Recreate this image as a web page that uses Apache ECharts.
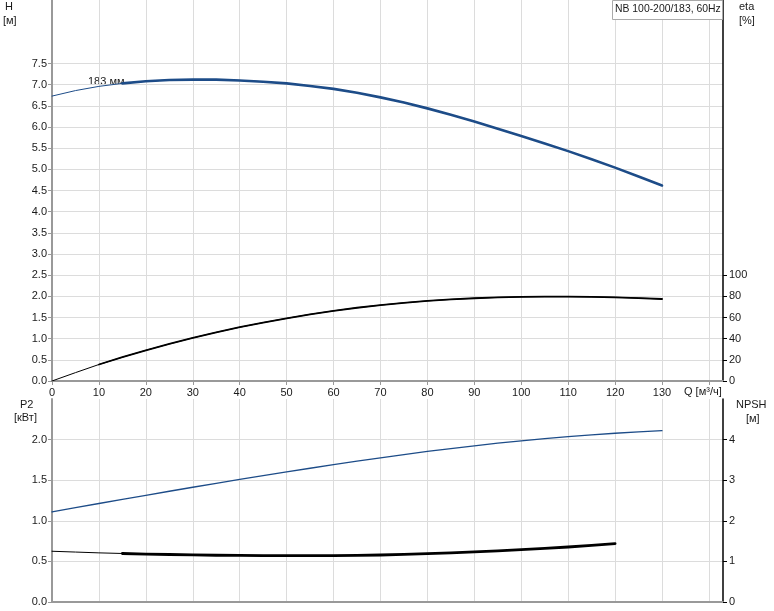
<!DOCTYPE html>
<html><head><meta charset="utf-8">
<script src="https://cdn.jsdelivr.net/npm/echarts@6/dist/echarts.min.js"></script>
<style>html,body{margin:0;padding:0;background:#fff}#c{width:774px;height:611px}</style>
</head><body><div id="c"></div>
<script>
// Flow rate Q [м³/ч]
const Q = [0,5,10,15,20,25,30,35,40,45,50,55,60,65,70,75,80,85,90,95,100,105,110,115,120,125,130];
// Head H [м]
const H = [6.73,6.86,6.96,7.03,7.08,7.11,7.12,7.12,7.10,7.07,7.03,6.97,6.90,6.81,6.70,6.58,6.44,6.29,6.13,5.96,5.79,5.61,5.43,5.24,5.04,4.83,4.62];
// Efficiency eta [%]
const ETA = [0,7.9,15.6,22.5,29,35,40.7,46,50.8,55.2,59.2,63,66.3,69.2,71.7,73.9,75.7,77.1,78.2,79.0,79.5,79.7,79.7,79.5,79.1,78.4,77.5];
// Power P2 [кВт]
const P2 = [1.11,1.162,1.213,1.264,1.314,1.364,1.413,1.461,1.509,1.556,1.602,1.647,1.691,1.734,1.776,1.816,1.854,1.890,1.924,1.956,1.985,2.012,2.037,2.059,2.078,2.095,2.11];
// NPSH [м] (Q 0..120)
const NPSH = [1.25,1.23,1.21,1.195,1.18,1.17,1.16,1.152,1.146,1.142,1.14,1.14,1.142,1.148,1.158,1.172,1.19,1.21,1.235,1.26,1.29,1.32,1.355,1.395,1.44];
// Tick labels
const H_TICKS = [0,0.5,1,1.5,2,2.5,3,3.5,4,4.5,5,5.5,6,6.5,7,7.5];
const ETA_TICKS = [0,20,40,60,80,100];
const P2_TICKS = [0,0.5,1,1.5,2];
const NPSH_TICKS = [0,1,2,3,4];
const X_TICKS = [0,10,20,30,40,50,60,70,80,90,100,110,120,130];
const TITLE = 'NB 100-200/183, 60Hz';
const CURVE_LABEL = '183 мм';

const pairs = (xs, ys, from) => ys.map((y,i)=>[xs[i],y]).filter(p=>p[0]>=(from||0));
const FONT = 'Liberation Sans, Arial, sans-serif';
const TXT = '#1a1a1a';
const GRID = '#dcdcdc';
const BLUE = '#1d4c88';

const chart = echarts.init(document.getElementById('c'), null, {renderer:'canvas'});
const xBase = (gi, showLabels) => ({
  type:'value', gridIndex:gi, min:0, max:143, interval:10,
  axisLine:{show:true, onZero:false, lineStyle:{color:'#999', width:2}},
  axisTick:{show:showLabels, length:4, lineStyle:{color:'#999'}, customValues: X_TICKS.concat([140])},
  axisLabel:{show:showLabels, customValues:X_TICKS, color:TXT, fontSize:11, fontFamily:FONT, margin:6},
  splitLine:{show:true, lineStyle:{color:GRID, width:1}}
});
const yLeft = (gi, max, interval, ticks) => ({
  type:'value', gridIndex:gi, min:0, max:max, interval:interval, position:'left',
  axisLine:{show:true, onZero:false, lineStyle:{color:'#999', width:2}},
  axisTick:{show:true, length:4, lineStyle:{color:'#999'}, customValues:ticks},
  axisLabel:{customValues:ticks, formatter:v=>v.toFixed(1), color:TXT, fontSize:11, fontFamily:FONT, margin:5},
  splitLine:{show:true, lineStyle:{color:GRID, width:1}}
});
const yRight = (gi, max, interval, ticks) => ({
  type:'value', gridIndex:gi, min:0, max:max, interval:interval, position:'right',
  axisLine:{show:true, onZero:false, lineStyle:{color:'#000', width:1.5}},
  axisTick:{show:true, length:4, lineStyle:{color:'#000'}, customValues:ticks},
  axisLabel:{customValues:ticks, color:TXT, fontSize:11, fontFamily:FONT, margin:6},
  splitLine:{show:false}
});
const line = (xi, yi, data, color, width) => ({
  type:'line', xAxisIndex:xi, yAxisIndex:yi, data:data, showSymbol:false, symbol:'none',
  smooth:false, lineStyle:{color:color, width:width, join:'round', cap:'round'}, silent:true
});

chart.setOption({
  animation:false,
  textStyle:{fontFamily:FONT},
  grid:[
    {left:52, top:0, width:671, height:381},
    {left:52, top:399, width:671, height:203}
  ],
  xAxis:[xBase(0,true), xBase(1,false)],
  yAxis:[
    yLeft(0, 9, 0.5, H_TICKS),
    yRight(0, 360, 20, ETA_TICKS),
    yLeft(1, 2.5, 0.5, P2_TICKS),
    yRight(1, 5, 1, NPSH_TICKS)
  ],
  series:[
    line(0,0,pairs(Q,H),BLUE,1),
    line(0,0,pairs(Q,H,15),BLUE,2.6),
    line(0,1,pairs(Q,ETA),'#000',1),
    line(0,1,pairs(Q,ETA,10),'#000',1.8),
    line(1,2,pairs(Q,P2),BLUE,1.3),
    line(1,3,pairs(Q,NPSH),'#000',1),
    line(1,3,pairs(Q,NPSH,12),'#000',2.8)
  ],
  graphic:[
    {type:'text', left:5, top:1, style:{text:'H', font:'11px '+FONT, fill:TXT}},
    {type:'text', left:3, top:15, style:{text:'[м]', font:'11px '+FONT, fill:TXT}},
    {type:'text', left:739, top:1, style:{text:'eta', font:'11px '+FONT, fill:TXT}},
    {type:'text', left:739, top:15, style:{text:'[%]', font:'11px '+FONT, fill:TXT}},
    {type:'text', left:20, top:399, style:{text:'P2', font:'11px '+FONT, fill:TXT}},
    {type:'text', left:14, top:412, style:{text:'[кВт]', font:'11px '+FONT, fill:TXT}},
    {type:'text', left:736, top:399, style:{text:'NPSH', font:'11px '+FONT, fill:TXT}},
    {type:'text', left:746, top:413, style:{text:'[м]', font:'11px '+FONT, fill:TXT}},
    {type:'text', left:684, top:386, style:{text:'Q [м³/ч]', font:'11px '+FONT, fill:TXT}},
    {type:'text', left:88, top:76, style:{text:CURVE_LABEL, font:'11px '+FONT, fill:TXT}},
    {type:'rect', left:612, top:0, shape:{width:110, height:19}, style:{fill:'#fff', stroke:'#aaa', lineWidth:1}, z:100},
    {type:'text', left:615, top:4, style:{text:TITLE, font:'10.4px '+FONT, fill:TXT}, z:101}
  ]
});
</script></body></html>
